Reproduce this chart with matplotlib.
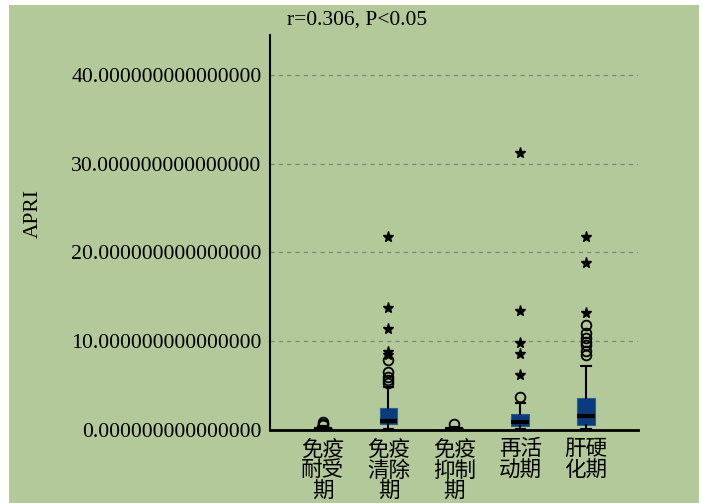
import numpy as np
import matplotlib
matplotlib.use("Agg")
import matplotlib.pyplot as plt
from matplotlib.patches import Rectangle

# data
stages = ["免疫\n耐受\n期", "免疫\n清除\n期", "免疫\n抑制\n期", "再活\n动期", "肝硬\n化期"]
whislo = [0.05, 0.11, 0.05, 0.10, 0.10]
q1 = [0.10, 0.68, 0.08, 0.49, 0.56]
med = [0.15, 1.05, 0.12, 0.90, 1.61]
q3 = [0.25, 2.52, 0.20, 1.77, 3.57]
whishi = [0.40, 4.88, 0.30, 3.08, 7.25]
circles = [
    [0.55, 0.70, 0.85],
    [5.26, 5.63, 6.00, 6.57, 7.89],
    [0.64],
    [3.68],
    [8.45, 8.94, 9.58, 9.95, 10.33, 10.97, 11.83],
]
stars = [
    [],
    [8.5, 8.82, 11.35, 13.78, 21.78],
    [],
    [6.20, 8.56, 9.77, 13.45, 31.2],
    [13.15, 18.78, 21.78],
]
yticks = [0, 10, 20, 30, 40]

green = "#b3c99a"
serif = "Liberation Serif"
cjk = ["Noto Sans CJK SC", "DejaVu Sans"]

fig = plt.figure(figsize=(7.02, 5.03), dpi=100, facecolor="white")
fig.patches.append(Rectangle((9 / 702, 0), 690 / 702, 498 / 503,
                             transform=fig.transFigure, facecolor=green,
                             edgecolor="none", zorder=-10))

ax = fig.add_axes([270 / 702, 73 / 503, 368 / 702, 395 / 503])
ax.set_facecolor("none")

stats = []
for i in range(len(stages)):
    stats.append(dict(whislo=whislo[i], q1=q1[i], med=med[i], q3=q3[i],
                      whishi=whishi[i], fliers=circles[i]))

pos = np.arange(len(stages))
ax.bxp(stats, positions=pos, widths=0.27, patch_artist=True, showfliers=True,
       boxprops=dict(facecolor="#0a3c7d", edgecolor="#2b5c96", linewidth=0.8),
       medianprops=dict(color="black", linewidth=3),
       whiskerprops=dict(color="black", linewidth=1.5),
       capprops=dict(color="black", linewidth=1.5),
       capwidths=0.14,
       flierprops=dict(marker="o", markerfacecolor="none", markeredgecolor="black",
                       markersize=7, markeredgewidth=1.3))

for i, s in enumerate(stars):
    if s:
        ax.plot([pos[i]] * len(s), s, ls="none", marker="*", color="black",
                markersize=8, clip_on=False)

ax.set_xlim(-0.8, 4.79)
ax.set_ylim(0, 44.5)
ax.set_yticks(yticks)
ax.set_yticklabels([f"{v:.15f}" for v in yticks], fontfamily=serif, fontsize=15.7)
ax.set_xticks(pos)
ax.set_xticklabels(stages, fontfamily=cjk, fontsize=15.5, linespacing=0.95)
ax.tick_params(length=0, pad=6)

ax.grid(axis="y", color="#7f8f78", linestyle=(0, (3, 3)), linewidth=1)
ax.set_axisbelow(True)
for side in ["top", "right"]:
    ax.spines[side].set_visible(False)
ax.spines["left"].set_linewidth(1.5)
ax.spines["bottom"].set_linewidth(2)

fig.text(357 / 702, 1 - 20 / 503, "r=0.306, P<0.05", ha="center", va="center",
         fontfamily=serif, fontsize=15.5)
fig.text(33 / 702, 1 - 213 / 503, "APRI", ha="center", va="center", rotation=90,
         fontfamily=serif, fontsize=15.5)

fig.savefig("out.png", dpi=100, facecolor="white")
